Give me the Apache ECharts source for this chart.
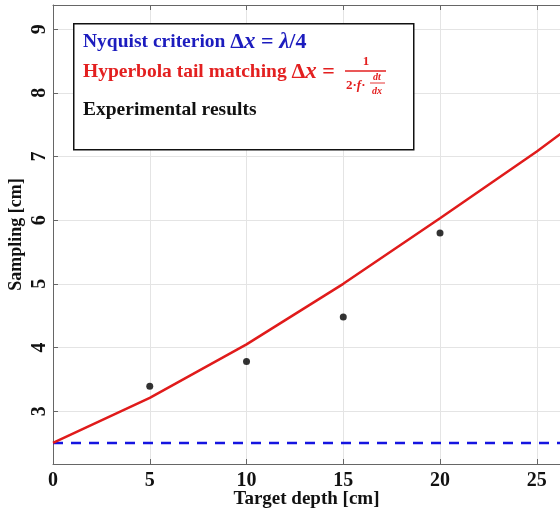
<!DOCTYPE html>
<html>
<head>
<meta charset="utf-8">
<script src="https://cdn.jsdelivr.net/npm/echarts@6/dist/echarts.min.js"></script>
<style>
  html, body { margin: 0; padding: 0; background: #fff; }
  #main { width: 560px; height: 513px; }
</style>
</head>
<body>
<div id="main"></div>
<script>
// data
var nyquistX = [0, 30];
var nyquistY = [2.5, 2.5];
var tailX = [0, 5, 10, 15, 20, 25, 30];
var tailY = [2.5, 3.21, 4.05, 5.0, 6.03, 7.08, 8.2];
var expX = [5, 10, 15, 20];
var expY = [3.39, 3.78, 4.48, 5.80];
var yTicks = [3, 4, 5, 6, 7, 8, 9];

function pairs(xs, ys) {
  var out = [];
  for (var i = 0; i < xs.length; i++) out.push([xs[i], ys[i]]);
  return out;
}

var serif = 'Liberation Serif';
var blue = '#1c1cbe';
var red = '#e32020';
var chart = echarts.init(document.getElementById('main'));

function mathRich(color) {
  return {
    a: { fontFamily: serif, fontWeight: 'bold', fontSize: 19.5, fill: color },
    d: { fontFamily: serif, fontWeight: 'bold', fontSize: 22, fill: color },
    e: { fontFamily: serif, fontWeight: 'bold', fontSize: 22, fill: color },
    i: { fontFamily: serif, fontWeight: 'bold', fontStyle: 'italic', fontSize: 23, fill: color }
  };
}

var option = {
  backgroundColor: '#ffffff',
  animation: false,
  grid: { left: 53, top: 5, right: 0, bottom: 49, outerBoundsMode: 'none', containLabel: false },
  xAxis: [{
    type: 'value',
    min: 0, max: 26.2, interval: 5,
    name: 'Target depth [cm]',
    nameLocation: 'middle',
    nameGap: 26,
    nameMoveOverlap: false,
    nameTextStyle: { fontFamily: serif, fontWeight: 'bold', fontSize: 19, color: '#111' },
    axisLine: { lineStyle: { color: '#666', width: 1 } },
    axisTick: { inside: true, length: 5, lineStyle: { color: '#666' } },
    axisLabel: { fontFamily: serif, fontWeight: 'bold', fontSize: 20, color: '#111', margin: 7,
      formatter: function (v) { return v % 5 === 0 ? v : ''; } },
    splitLine: { show: true, lineStyle: { color: '#e4e4e4', width: 1 } }
  }, {
    type: 'value', position: 'top',
    min: 0, max: 26.2, interval: 5,
    axisLine: { show: true, lineStyle: { color: '#666', width: 1 } },
    axisTick: { inside: true, length: 5, lineStyle: { color: '#666' } },
    axisLabel: { show: false },
    splitLine: { show: false }
  }],
  yAxis: {
    type: 'value',
    min: 2.17, max: 9.38,
    name: 'Sampling [cm]',
    nameLocation: 'middle',
    nameGap: 28,
    nameMoveOverlap: false,
    nameRotate: 90,
    nameTextStyle: { fontFamily: serif, fontWeight: 'bold', fontSize: 18, color: '#111' },
    axisLine: { show: true, lineStyle: { color: '#666', width: 1 } },
    axisTick: { inside: true, length: 5, customValues: yTicks, lineStyle: { color: '#666' } },
    axisLabel: { customValues: yTicks, rotate: 90, fontFamily: serif, fontWeight: 'bold', fontSize: 20, color: '#111', margin: 3 },
    splitLine: { show: true, lineStyle: { color: '#e4e4e4', width: 1 } }
  },
  series: [{
    name: 'Nyquist',
    type: 'line',
    data: pairs(nyquistX, nyquistY),
    symbol: 'none',
    clip: true,
    lineStyle: { color: '#1515e0', width: 2.5, type: [10, 8] },
    z: 3
  }, {
    name: 'Hyperbola',
    type: 'line',
    data: pairs(tailX, tailY),
    symbol: 'none',
    clip: true,
    lineStyle: { color: '#e01b1b', width: 2.5 },
    z: 4
  }, {
    name: 'Experimental',
    type: 'scatter',
    data: pairs(expX, expY),
    symbol: 'circle',
    symbolSize: 7,
    itemStyle: { color: '#000' },
    z: 5
  }],
  graphic: [
    { type: 'rect', left: 73, top: 23, z: 10,
      shape: { width: 340, height: 126 },
      style: { fill: '#fff', stroke: '#111', lineWidth: 1.5 } },
    { type: 'text', x: 83, y: 42, z: 11,
      style: {
        text: '{a|Nyquist criterion }{d|Δ}{i|x}{e| = }{i|λ}{d|/4}',
        verticalAlign: 'middle',
        rich: mathRich(blue)
      } },
    { type: 'text', x: 83, y: 72, z: 11,
      style: {
        text: '{a|Hyperbola tail matching }{d|Δ}{i|x}{e| =}',
        verticalAlign: 'middle',
        rich: mathRich(red)
      } },
    { type: 'text', x: 366, y: 62, z: 11,
      style: { text: '1', align: 'center', verticalAlign: 'middle', fontFamily: serif, fontWeight: 'bold', fontSize: 13, fill: red } },
    { type: 'line', z: 11, shape: { x1: 345, y1: 71, x2: 386, y2: 71 }, style: { stroke: red, lineWidth: 1.3 } },
    { type: 'text', x: 346, y: 86, z: 11,
      style: { text: '2·{i|f}·', verticalAlign: 'middle', fontFamily: serif, fontWeight: 'bold', fontSize: 13, fill: red,
        rich: { i: { fontFamily: serif, fontWeight: 'bold', fontStyle: 'italic', fontSize: 13, fill: red } } } },
    { type: 'text', x: 377, y: 77, z: 11,
      style: { text: 'dt', align: 'center', verticalAlign: 'middle', fontFamily: serif, fontWeight: 'bold', fontStyle: 'italic', fontSize: 10, fill: red } },
    { type: 'line', z: 11, shape: { x1: 370, y1: 83, x2: 385, y2: 83 }, style: { stroke: red, lineWidth: 0.9 } },
    { type: 'text', x: 377, y: 91, z: 11,
      style: { text: 'dx', align: 'center', verticalAlign: 'middle', fontFamily: serif, fontWeight: 'bold', fontStyle: 'italic', fontSize: 10, fill: red } },
    { type: 'text', x: 83, y: 110, z: 11,
      style: { text: 'Experimental results', verticalAlign: 'middle', fontFamily: serif, fontWeight: 'bold', fontSize: 19.5, fill: '#111' } }
  ]
};

chart.setOption(option);
</script>
</body>
</html>
